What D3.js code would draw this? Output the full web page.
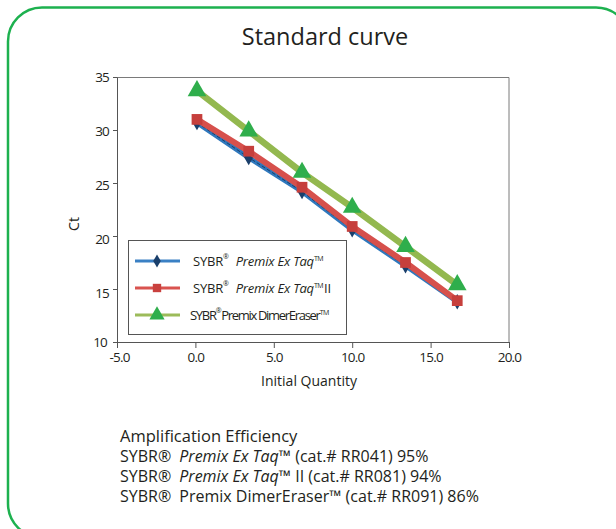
<!DOCTYPE html>
<html>
<head>
<meta charset="utf-8">
<script src="https://cdn.jsdelivr.net/npm/d3@7"></script>
<style>
  body { margin: 0; background: #fff; }
  text { font-family: "Open Sans", sans-serif; fill: #231f20; }
</style>
</head>
<body>
<svg id="plot" width="616" height="529"></svg>
<script>
// data
const quantity = [0.1, 3.4, 6.8, 10.0, 13.4, 16.7];
const ctExTaq = [30.7, 27.4, 24.2, 20.6, 17.2, 13.8];
const ctExTaqII = [31.0, 28.0, 24.6, 20.9, 17.5, 13.9];
const ctDimerEraser = [33.7, 29.9, 26.0, 22.7, 19.0, 15.4];
const xTicks = [-5, 0, 5, 10, 15, 20];
const yTicks = [10, 15, 20, 25, 30, 35];
const efficiency = [
  {pre: "SYBR®", ital: "Premix Ex Taq", post: "™ (cat.# RR041) 95%"},
  {pre: "SYBR®", ital: "Premix Ex Taq", post: "™ II (cat.# RR081) 94%"},
  {pre: "SYBR®", ital: "", post: "Premix DimerEraser™ (cat.# RR091) 86%"}
];

const svg = d3.select("#plot");
const margin = {top: 77, right: 107, bottom: 187, left: 117};
const width = 616 - margin.left - margin.right;
const height = 529 - margin.top - margin.bottom;

// green rounded frame
svg.append("rect")
  .attr("x", 8).attr("y", 7.5)
  .attr("width", 622).attr("height", 530)
  .attr("rx", 34).attr("ry", 34)
  .style("fill", "none")
  .style("stroke", "#1db14f")
  .style("stroke-width", 2.5);

svg.append("text")
  .attr("x", 325).attr("y", 45)
  .attr("text-anchor", "middle")
  .style("font-size", "23.5px")
  .text("Standard curve");

const g = svg.append("g").attr("transform", `translate(${margin.left},${margin.top})`);

const x = d3.scaleLinear().domain([-5, 20]).range([0, width]);
const y = d3.scaleLinear().domain([10, 35]).range([height, 0]);

// box top / right
g.append("path")
  .attr("d", `M0,0.5H${width}V${height}`)
  .style("fill", "none").style("stroke", "#7a7a7a");

const fmt = d => d.toFixed(1);
const xAxis = g.append("g")
  .attr("transform", `translate(0,${height})`)
  .call(d3.axisBottom(x).tickValues(xTicks).tickFormat(fmt).tickSize(6).tickSizeOuter(0).tickPadding(4));
const yAxis = g.append("g")
  .call(d3.axisLeft(y).tickValues(yTicks).tickSize(4).tickSizeOuter(0).tickPadding(4));

[xAxis, yAxis].forEach(a => {
  a.select(".domain").style("stroke", "#555");
  a.selectAll(".tick line").style("stroke", "#555");
  a.selectAll(".tick text")
    .style("font-family", "'Open Sans', sans-serif")
    .style("font-size", "13.5px")
    .style("letter-spacing", "-0.8px")
    .style("fill", "#231f20");
});
yAxis.selectAll(".tick text").attr("dy", d => (0.32 + (35 - d) * 0.015) + "em");
// keep "10" clear of "-5.0", as in the original they nearly touch
yAxis.selectAll(".tick text").filter(d => d == 10).attr("x", -10).attr("dy", "0.3em");
xAxis.selectAll(".tick text").filter(d => d == -5).attr("dx", 2);

g.append("text")
  .attr("x", (309 - margin.left)).attr("y", 386 - margin.top)
  .attr("text-anchor", "middle")
  .style("font-size", "14px")
  .text("Initial Quantity");

g.append("text")
  .attr("transform", `translate(${74 - margin.left},${224 - margin.top}) rotate(-90)`)
  .attr("text-anchor", "middle")
  .attr("dy", "0.35em")
  .style("font-size", "14px")
  .text("Ct");

const series = [
  {values: ctExTaq, line: "#2f78bd", marker: "#1a3f6b", width: 5, symbol: d3.symbolDiamond, size: 70},
  {values: ctExTaqII, line: "#d6504c", marker: "#c63f3c", width: 6, symbol: d3.symbolSquare, size: 115},
  {values: ctDimerEraser, line: "#93b84f", marker: "#2fae4c", width: 6.5, symbol: d3.symbolTriangle, size: 150}
];

const line = d3.line().x((d, i) => x(quantity[i])).y(d => y(d));

series.forEach((s, k) => {
  g.append("path")
    .datum(s.values)
    .attr("d", line)
    .style("fill", "none")
    .style("stroke", s.line)
    .style("stroke-width", s.width)
    .style("stroke-linejoin", "round");
  if (k == 0) {
    g.append("path")
      .datum(s.values)
      .attr("d", line)
      .style("fill", "none")
      .style("stroke", "#1a3f6b")
      .style("stroke-width", 1)
      .style("stroke-dasharray", "4,2");
  }
  g.selectAll(null)
    .data(s.values)
    .enter().append("path")
    .attr("d", d3.symbol().type(s.symbol).size(s.size))
    .attr("transform", (d, i) => `translate(${x(quantity[i])},${y(d)})`)
    .style("fill", s.marker);
});

// legend
const leg = svg.append("g");
leg.append("rect")
  .attr("x", 128.5).attr("y", 240.5)
  .attr("width", 218).attr("height", 94)
  .style("fill", "#fff")
  .style("stroke", "#555")
  .style("stroke-width", 1);

const legendRows = [261, 288, 315];
const legendLine = ["#3a80c4", "#d9534f", "#9cbb5a"];
const legendMarker = ["#1a3f6b", "#c9413e", "#2fae4c"];
const legendSize = [50, 70, 100];
series.forEach((s, k) => {
  const ly = legendRows[k];
  leg.append("line")
    .attr("x1", 135).attr("x2", 180)
    .attr("y1", ly).attr("y2", ly)
    .style("stroke", legendLine[k])
    .style("stroke-width", 3);
  leg.append("path")
    .attr("d", d3.symbol().type(s.symbol).size(legendSize[k]))
    .attr("transform", `translate(157,${ly})`)
    .style("fill", legendMarker[k]);
});

function legendText(k, xs, ital, extra, spacing) {
  const t = leg.append("text")
    .attr("x", xs).attr("y", legendRows[k] + 4.5)
    .style("font-size", "13px")
    .style("letter-spacing", spacing + "px");
  t.append("tspan").text("SYBR");
  t.append("tspan").attr("dy", -7).style("font-size", "7px").text("®");
  t.append("tspan").attr("dy", 7).attr("dx", k == 2 ? 1 : 7)
    .style("font-style", ital ? "italic" : "normal").text(ital ? "Premix Ex Taq" : "Premix DimerEraser");
  t.append("tspan").attr("dy", -5).style("font-size", "7px").style("letter-spacing", "-0.5px").text("TM");
  if (extra) t.append("tspan").attr("dy", 5).attr("dx", 1).text(extra);
}
legendText(0, 193, true, "", -0.2);
legendText(1, 193, true, "II", -0.2);
legendText(2, 190, false, "", -1.3);

// efficiency notes
const notes = svg.append("g").style("font-size", "16px");
notes.append("text").attr("x", 120).attr("y", 442).style("font-size", "16.5px").text("Amplification Efficiency");
efficiency.forEach((e, i) => {
  const t = notes.append("text").attr("x", 120).attr("y", 462 + i * 20);
  t.append("tspan").text(e.pre);
  if (e.ital) t.append("tspan").attr("dx", 8).style("font-style", "italic").text(e.ital);
  t.append("tspan").attr("dx", e.ital ? 0 : 8).text(e.post);
});
</script>
</body>
</html>
